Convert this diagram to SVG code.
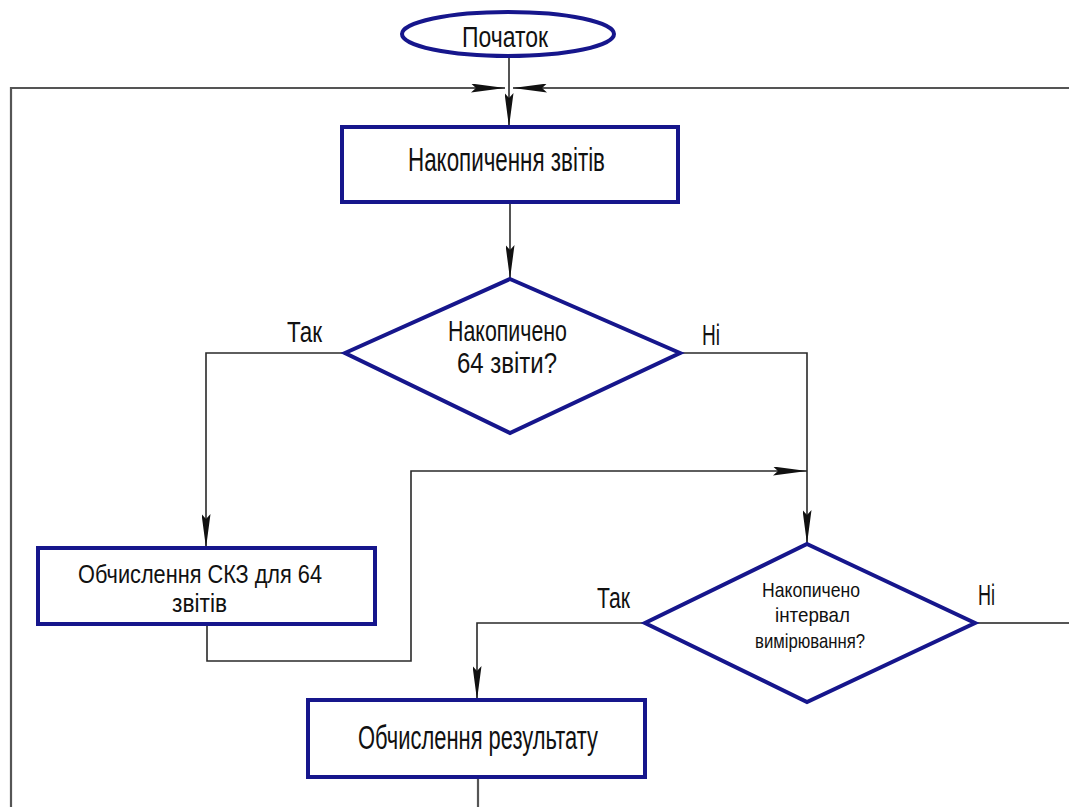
<svg xmlns="http://www.w3.org/2000/svg" width="1069" height="807" viewBox="0 0 1069 807">
  <style>
    .shape { fill: #ffffff; stroke: #16168c; stroke-width: 4; stroke-linejoin: miter; }
    .wire { fill: none; stroke: #2a2a2a; stroke-width: 1.6; }
    .loop { fill: none; stroke: #555555; stroke-width: 2.2; }
    .lbl { font-family: "Liberation Sans", "DejaVu Sans", sans-serif; fill: #111111; }
    .big { font-size: 33px; }
    .mid { font-size: 30px; }
    .pair { font-size: 25px; }
    .small { font-size: 21px; }
  </style>
  <defs>
    <marker id="arrow" markerUnits="userSpaceOnUse" viewBox="0 0 34 9" markerWidth="34" markerHeight="9" refX="34" refY="4.5" orient="auto">
      <path d="M0,0 L34,4.5 L0,9 L5,4.5 z" fill="#111111"/>
    </marker>
  </defs>

  <rect width="1069" height="807" fill="#ffffff"/>

  <!-- connectors -->
  <g id="connectors">
    <path class="loop" d="M11,807 L11,88 L505,88" marker-end="url(#arrow)"/>
    <path class="loop" d="M1069,88 L513,88" marker-end="url(#arrow)"/>
    <path class="wire" d="M509,57 L509,127" marker-end="url(#arrow)"/>
    <path class="wire" d="M510,202 L510,279" marker-end="url(#arrow)"/>
    <path class="wire" d="M345,353 L206,353 L206,548" marker-end="url(#arrow)"/>
    <path class="wire" d="M680,353 L807,353 L807,544" marker-end="url(#arrow)"/>
    <path class="wire" d="M207,624 L207,661 L411,661 L411,471 L807,471" marker-end="url(#arrow)"/>
    <path class="wire" d="M645,623 L477,623 L477,700" marker-end="url(#arrow)"/>
    <path class="loop" d="M975,623 L1069,623"/>
    <path class="loop" d="M478,777 L478,807"/>
    <text class="lbl mid" x="287" y="342" textLength="35" lengthAdjust="spacingAndGlyphs">Так</text>
    <text class="lbl mid" x="702" y="345" textLength="18" lengthAdjust="spacingAndGlyphs">Ні</text>
    <text class="lbl mid" x="597" y="608" textLength="33" lengthAdjust="spacingAndGlyphs">Так</text>
    <text class="lbl mid" x="978" y="605" textLength="17" lengthAdjust="spacingAndGlyphs">Ні</text>
  </g>

  <!-- start terminal -->
  <g id="start">
    <ellipse class="shape" cx="508" cy="34" rx="106" ry="22"/>
    <text class="lbl mid" x="462" y="47" textLength="86" lengthAdjust="spacingAndGlyphs">Початок</text>
  </g>

  <!-- accumulate reports -->
  <g id="accumulate">
    <rect class="shape" x="342" y="127" width="336" height="75"/>
    <text class="lbl big" x="408" y="171" textLength="197" lengthAdjust="spacingAndGlyphs">Накопичення звітів</text>
  </g>

  <!-- check: 64 reports collected -->
  <g id="check64">
    <polygon class="shape" points="510,279 680,353 510,433 345,353"/>
    <text class="lbl mid" x="448" y="341" textLength="119" lengthAdjust="spacingAndGlyphs">Накопичено</text>
    <text class="lbl mid" x="457" y="373" textLength="100" lengthAdjust="spacingAndGlyphs">64 звіти?</text>
  </g>

  <!-- RMS over 64 reports -->
  <g id="rms">
    <rect class="shape" x="38" y="548" width="337" height="76"/>
    <text class="lbl pair" x="78" y="583" textLength="244" lengthAdjust="spacingAndGlyphs">Обчислення СКЗ для 64</text>
    <text class="lbl pair" x="172" y="612" textLength="55" lengthAdjust="spacingAndGlyphs">звітів</text>
  </g>

  <!-- check: measurement interval collected -->
  <g id="checkInterval">
    <polygon class="shape" points="807,544 975,623 807,702 645,623"/>
    <text class="lbl small" x="762" y="597" textLength="98" lengthAdjust="spacingAndGlyphs">Накопичено</text>
    <text class="lbl small" x="775" y="622" textLength="75" lengthAdjust="spacingAndGlyphs">інтервал</text>
    <text class="lbl small" x="755" y="648" textLength="110" lengthAdjust="spacingAndGlyphs">вимірювання?</text>
  </g>

  <!-- compute result -->
  <g id="result">
    <rect class="shape" x="308" y="700" width="337" height="77"/>
    <text class="lbl big" x="358" y="749" textLength="240" lengthAdjust="spacingAndGlyphs">Обчислення результату</text>
  </g>
</svg>
